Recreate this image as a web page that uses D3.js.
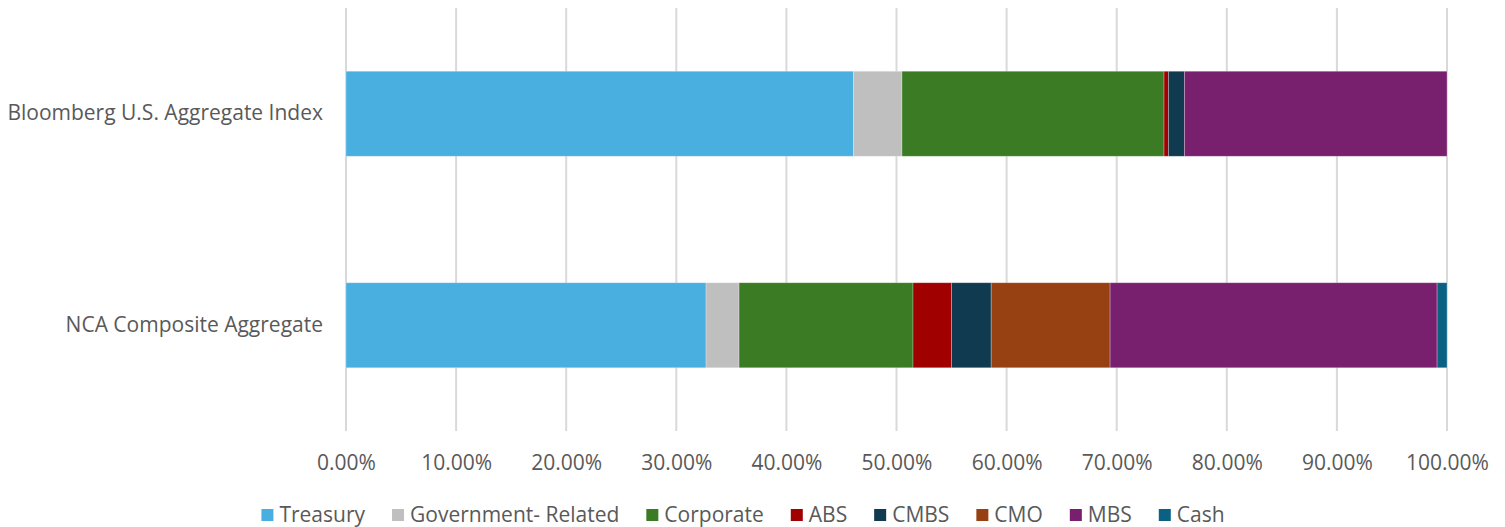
<!DOCTYPE html>
<html>
<head>
<meta charset="utf-8">
<script src="https://cdn.jsdelivr.net/npm/d3@7"></script>
<style>
  html, body { margin: 0; padding: 0; background: #fff; }
  svg { display: block; font-family: "Open Sans", sans-serif; }
</style>
</head>
<body>
<svg id="chart" width="1505" height="527"></svg>
<script>
const categories = ["Bloomberg U.S. Aggregate Index", "NCA Composite Aggregate"];
const seriesNames = ["Treasury", "Government- Related", "Corporate", "ABS", "CMBS", "CMO", "MBS", "Cash"];
const seriesColors = ["#48AFE0", "#BFBFBF", "#3B7B23", "#A00000", "#0F3A50", "#974011", "#78206E", "#0B6184"];
const bloombergValues = [46.1, 4.4, 23.8, 0.4, 1.45, 0.0, 23.85, 0.0];
const ncaValues = [32.7, 3.0, 15.8, 3.5, 3.6, 10.8, 29.7, 0.9];
const tickValues = [0, 10, 20, 30, 40, 50, 60, 70, 80, 90, 100];

const rows = categories.map((c, i) => {
  const vals = i === 0 ? bloombergValues : ncaValues;
  const o = { category: c };
  seriesNames.forEach((s, j) => o[s] = vals[j]);
  return o;
});

const svg = d3.select("#chart");
const x = d3.scaleLinear().domain([0, 100]).range([346, 1447]);
const y = d3.scaleBand().domain(categories).range([8, 431]).paddingInner(0.598).paddingOuter(0.299);
const color = d3.scaleOrdinal().domain(seriesNames).range(seriesColors);

// gridlines
svg.append("g").selectAll("line").data(tickValues).join("line")
  .attr("x1", d => x(d)).attr("x2", d => x(d))
  .attr("y1", 8).attr("y2", 431)
  .attr("stroke", "#D9D9D9").attr("stroke-width", 2);

// stacked bars
const stack = d3.stack().keys(seriesNames)(rows);
svg.append("g").selectAll("g").data(stack).join("g")
  .attr("fill", d => color(d.key))
  .selectAll("rect").data(d => d).join("rect")
  .attr("x", d => x(d[0]))
  .attr("width", d => Math.max(0, x(d[1]) - x(d[0])))
  .attr("y", d => y(d.data.category))
  .attr("height", y.bandwidth())
  .attr("stroke", "#ffffff").attr("stroke-opacity", 0.35).attr("stroke-width", 0.75);

// x axis labels
const xAxis = d3.axisBottom(x).tickValues(tickValues).tickSize(0).tickFormat(d => d3.format(".2f")(d) + "%");
const gx = svg.append("g").attr("transform", "translate(0,450)").call(xAxis);
gx.select(".domain").remove();
gx.selectAll("text").attr("font-size", 21).attr("fill", "#595959")
  .attr("font-family", "Open Sans, sans-serif").attr("dy", "0.8em");

// y axis labels
const yAxis = d3.axisLeft(y).tickSize(0).tickPadding(23);
const gy = svg.append("g").attr("transform", "translate(346,0)").call(yAxis);
gy.select(".domain").remove();
gy.selectAll("text").attr("font-size", 21).attr("fill", "#595959")
  .attr("font-family", "Open Sans, sans-serif").attr("dy", "0.3em");

// legend
const legend = svg.append("g");
const items = legend.selectAll("g").data(seriesNames).join("g");
items.append("rect").attr("width", 12).attr("height", 12).attr("y", 509).attr("fill", d => color(d));
items.append("text").attr("x", 18).attr("y", 522).text(d => d)
  .attr("font-size", 21).attr("fill", "#595959");
let cx = 0;
const gap = 27;
items.each(function() {
  const g = d3.select(this);
  const w = 18 + g.select("text").node().getComputedTextLength();
  g.attr("transform", `translate(${cx},0)`);
  cx += w + gap;
});
const total = cx - gap;
legend.attr("transform", `translate(${743 - total / 2},0)`);
</script>
</body>
</html>
